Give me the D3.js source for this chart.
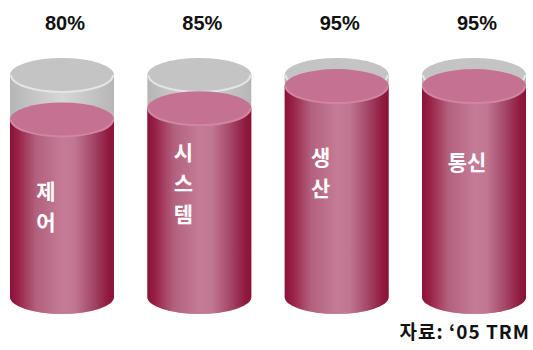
<!DOCTYPE html>
<html>
<head>
<meta charset="utf-8">
<script src="https://cdn.jsdelivr.net/npm/d3@7"></script>
<style>
  body { margin: 0; background: #fff; }
</style>
</head>
<body>
<svg id="chart"></svg>
<script>
// data
var categories = ["제어", "시스템", "생산", "통신"];
var values = [80, 85, 95, 95];
var labelLines = [["제", "어"], ["시", "스", "템"], ["생", "산"], ["통신"]];
var fullValue = 100;
var sourceText = "자료: ‘05 TRM";

// where the first label line sits (picture is hand laid out)
var labelTop = [191, 152, 157, 162];

var width = 533, height = 350;

var svg = d3.select("#chart")
  .attr("width", width)
  .attr("height", height);

var x = d3.scaleBand()
  .domain(categories)
  .range([10, 526])
  .paddingInner(0.243)
  .paddingOuter(0);

var y = d3.scaleLinear()
  .domain([0, fullValue])
  .range([297, 75]);

var ry = 17;

var defs = svg.append("defs");

var red = defs.append("linearGradient").attr("id", "redBody")
  .attr("x1", "0%").attr("x2", "100%").attr("y1", "0%").attr("y2", "0%");
[[0, "#8a1236"], [0.07, "#981f45"], [0.25, "#b2607d"], [0.5, "#c47b95"],
 [0.62, "#c17792"], [0.8, "#a44668"], [0.94, "#901b40"], [1, "#8a1236"]]
  .forEach(function(s) {
    red.append("stop").attr("offset", s[0]).attr("stop-color", s[1]);
  });

var grey = defs.append("linearGradient").attr("id", "greyBody")
  .attr("x1", "0%").attr("x2", "100%").attr("y1", "0%").attr("y2", "0%");
[[0, "#b6b6b6"], [0.5, "#d6d6d6"], [1, "#b6b6b6"]]
  .forEach(function(s) {
    grey.append("stop").attr("offset", s[0]).attr("stop-color", s[1]);
  });

function cylPath(cx, rx, top, bot) {
  return "M" + (cx - rx) + "," + top +
    "L" + (cx - rx) + "," + bot +
    "A" + rx + "," + ry + " 0 0 0 " + (cx + rx) + "," + bot +
    "L" + (cx + rx) + "," + top + "Z";
}

function rimPath(cx, rx, cy) {
  return "M" + (cx - rx) + "," + cy +
    "A" + rx + "," + ry + " 0 0 0 " + (cx + rx) + "," + cy;
}

var g = svg.selectAll(".cyl")
  .data(categories.map(function(c, i) { return { cat: c, value: values[i], lines: labelLines[i], top: labelTop[i] }; }))
  .enter().append("g")
  .attr("class", "cyl");

var rx = x.bandwidth() / 2;
function cx(d) { return x(d.cat) + rx; }

// grey 100% shell
g.append("path")
  .attr("d", function(d) { return cylPath(cx(d), rx, y(fullValue), y(0)); })
  .attr("fill", "url(#greyBody)");
g.append("ellipse")
  .attr("cx", cx).attr("cy", y(fullValue))
  .attr("rx", rx).attr("ry", ry)
  .attr("fill", "#c4c4c4");
g.append("path")
  .attr("d", function(d) { return rimPath(cx(d), rx - 1, y(fullValue)); })
  .attr("fill", "none")
  .attr("stroke", "#e4e4e4")
  .attr("stroke-width", 2);

// red value cylinder
g.append("path")
  .attr("d", function(d) { return cylPath(cx(d), rx, y(d.value), y(0)); })
  .attr("fill", "url(#redBody)");
g.append("ellipse")
  .attr("cx", cx).attr("cy", function(d) { return y(d.value); })
  .attr("rx", rx).attr("ry", ry)
  .attr("fill", "#c57192");
g.append("path")
  .attr("d", function(d) { return rimPath(cx(d), rx - 1, y(d.value)); })
  .attr("fill", "none")
  .attr("stroke", "#cf86a1")
  .attr("stroke-width", 2);

// percentages on top
g.append("text")
  .attr("x", function(d) { return cx(d) + 3; })
  .attr("y", 30)
  .attr("text-anchor", "middle")
  .style("font-family", "'Liberation Sans', Arial, sans-serif")
  .style("font-weight", "bold")
  .style("font-size", "20px")
  .attr("fill", "#111")
  .text(function(d) { return d.value + "%"; });

// category labels, written top to bottom
g.each(function(d) {
  var dx = d.lines.length > 1 ? -16 : -7;
  d3.select(this).selectAll(".lbl")
    .data(d.lines)
    .enter().append("text")
    .attr("class", "lbl")
    .attr("x", cx(d) + dx)
    .attr("y", function(t, i) { return d.top + i * 31; })
    .attr("dy", "0.36em")
    .attr("text-anchor", "middle")
    .style("font-family", "'Noto Sans CJK KR', sans-serif")
    .style("font-weight", "bold")
    .style("font-size", "21px")
    .attr("fill", "#fff")
    .text(function(t) { return t; });
});

svg.append("text")
  .attr("x", 530)
  .attr("y", 339)
  .attr("text-anchor", "end")
  .style("font-family", "'Noto Sans CJK KR', sans-serif")
  .style("font-weight", "bold")
  .style("font-size", "19px")
  .style("letter-spacing", "1px")
  .attr("fill", "#111")
  .text(sourceText);
</script>
</body>
</html>
